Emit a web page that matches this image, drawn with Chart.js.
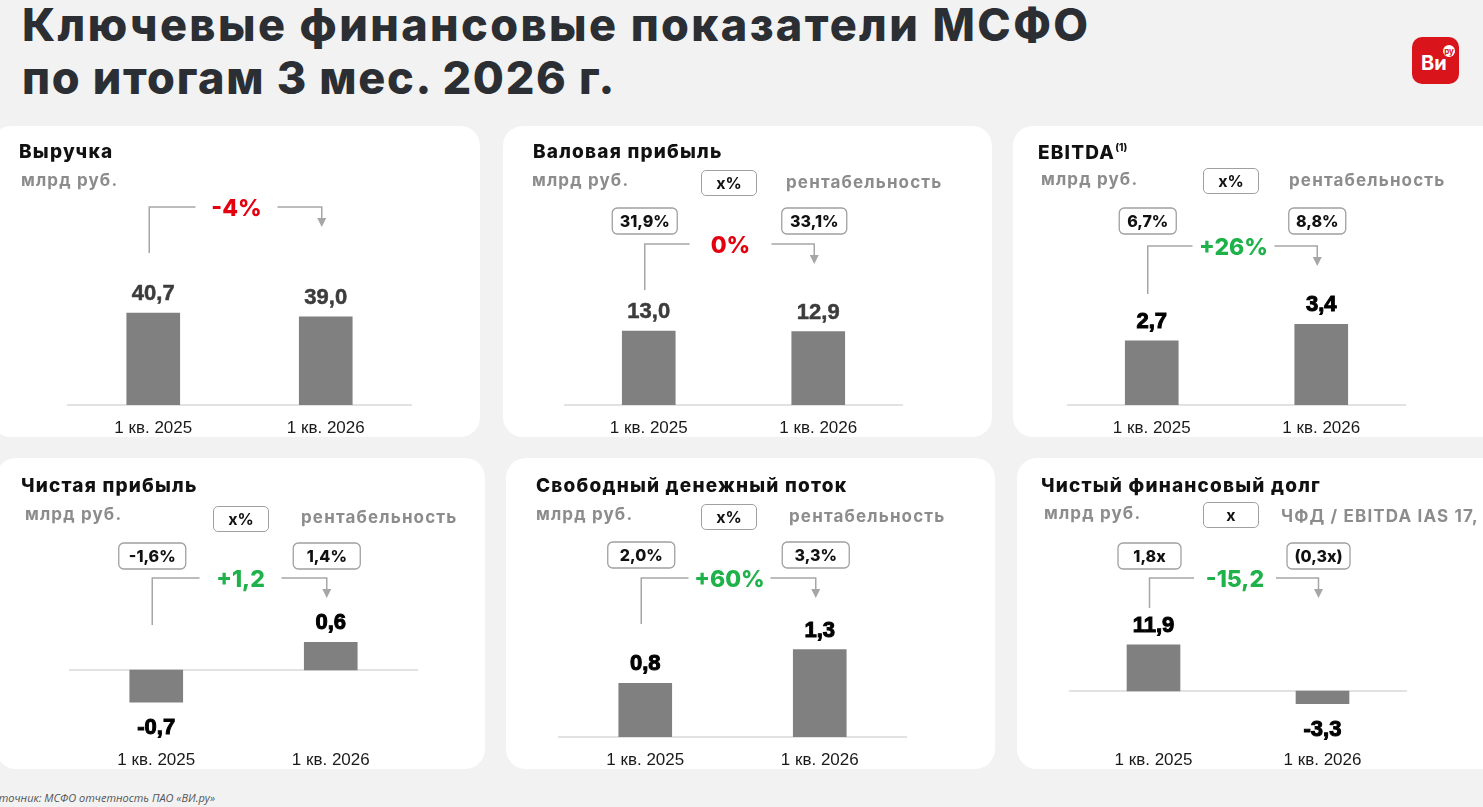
<!DOCTYPE html>
<html lang="ru">
<head>
<meta charset="utf-8">
<title>Ключевые финансовые показатели МСФО</title>
<script src="https://cdn.jsdelivr.net/npm/chart.js@4.4.1/dist/chart.umd.min.js"></script>
<style>
  html, body { margin: 0; padding: 0; }
  body {
    width: 1483px; height: 807px; position: relative; overflow: hidden;
    background: #f2f2f2; font-family: Inter, "Noto Sans", sans-serif;
  }
  .title {
    position: absolute; left: 22px; top: -2px; white-space: nowrap;
    font-size: 45px; line-height: 53px; font-weight: 800; color: #2b2e33;
  }
  .title .l1 { letter-spacing: 2.4px; }
  .title .l2 { letter-spacing: 1.65px; }
  .logo {
    position: absolute; left: 1412px; top: 37px; width: 47px; height: 47px;
    border-radius: 10px; background: #d9141b;
  }
  .logo .vi {
    position: absolute; left: 9px; top: 16px; color: #fff;
    font: 700 20px/1 Inter, sans-serif;
  }
  .logo .ru {
    position: absolute; left: 31px; top: 8px; width: 12px; height: 12px; border-radius: 50%;
    background: #fff; color: #d9141b; font: 700 8px/12px Inter, sans-serif; text-align: center;
  }
  .panel {
    position: absolute; width: 489px; height: 311px;
    background: #fff; border-radius: 20px; overflow: hidden;
  }
  .panel canvas { position: absolute; left: 0; top: 0; }
  .ptitle {
    position: absolute; white-space: nowrap; line-height: 1;
    font-size: 19px; font-weight: 800; color: #111; letter-spacing: 1.2px;
  }
  .ptitle sup { font-size: 10px; vertical-align: 8px; letter-spacing: 0; }
  .unit {
    position: absolute; white-space: nowrap; line-height: 1;
    font-size: 17px; font-weight: 700; color: #8c8c8c; letter-spacing: 1.15px;
  }
  .lbox {
    position: absolute; width: 54px; height: 24px; border: 1.3px solid #a0a0a0; border-radius: 5px;
    text-align: center; line-height: 24px; font-size: 16px; font-weight: 700; color: #111;
  }
  .source {
    position: absolute; left: -14px; top: 790px; white-space: nowrap;
    font: italic 11px "Open Sans", sans-serif; color: #555;
  }
</style>
</head>
<body>
<div class="title"><span class="l1">Ключевые финансовые показатели МСФО</span><br><span class="l2">по итогам 3 мес. 2026 г.</span></div>
<div class="logo"><span class="vi">Ви</span><span class="ru">ру</span></div>
<div id="panels"></div>
<div class="source">Источник: МСФО отчетность ПАО «ВИ.ру»</div>

<script>
// data
const categories = ["1 кв. 2025", "1 кв. 2026"];
const titles = ["Выручка", "Валовая прибыль", "EBITDA<sup>(1)</sup>", "Чистая прибыль", "Свободный денежный поток", "Чистый финансовый долг"];
const revenue = [40.7, 39.0];
const grossProfit = [13.0, 12.9];
const ebitda = [2.7, 3.4];
const netProfit = [-0.7, 0.6];
const freeCashFlow = [0.8, 1.3];
const netDebt = [11.9, -3.3];
const seriesValues = [revenue, grossProfit, ebitda, netProfit, freeCashFlow, netDebt];
const margins = [null, ["31,9%", "33,1%"], ["6,7%", "8,8%"], ["-1,6%", "1,4%"], ["2,0%", "3,3%"], ["1,8x", "(0,3x)"]];
const changes = ["-4%", "0%", "+26%", "+1,2", "+60%", "-15,2"];
const legendKeys = [null, "x%", "x%", "x%", "x%", "x"];
const legendNames = [null, "рентабельность", "рентабельность", "рентабельность", "рентабельность", "ЧФД / EBITDA IAS 17, x"];
const yMin = [0, 0, 0, -1.457, 0, -11.89];
const yMax = [105.8, 42.0, 10.06, 3.74, 3.557, 49.87];

const RED = "#e3000f";
const GREEN = "#1fb24a";
const changeColors = [RED, RED, GREEN, GREEN, GREEN, GREEN];

// panel placement (px, relative to each panel)
const layout = [
  { left: -9,   top: 126, padL: 76, padR: 68, title: [28, 16], unit: [30, 46], bracketY: 81,  drop: 46, dark: true },
  { left: 503,  top: 126, padL: 61, padR: 89, title: [30, 16], unit: [29, 46], lbox: [198, 44], lname: [283, 48], boxY: 82, boxW: 65, bracketY: 118, drop: 46, dark: true },
  { left: 1013, top: 126, padL: 54, padR: 96, title: [25, 16], unit: [28, 45], lbox: [190, 42], lname: [276, 46], boxY: 82, boxW: 57, bracketY: 120, drop: 48 },
  { left: -4,   top: 458, padL: 73, padR: 67, title: [25, 18], unit: [29, 48], lbox: [217, 48], lname: [305, 51], boxY: 85, boxW: 67, bracketY: 120, drop: 47 },
  { left: 506,  top: 458, padL: 52, padR: 88, title: [30, 18], unit: [30, 48], lbox: [195, 46], lname: [283, 50], boxY: 84, boxW: 67, bracketY: 120, drop: 46 },
  { left: 1017, top: 458, padL: 52, padR: 99, title: [24, 18], unit: [27, 47], lbox: [186, 44], lname: [264, 50], boxY: 85, boxW: 63, bracketY: 120, drop: 30 }
];

const PANEL_W = 489;
const PANEL_H = 311;
const AXIS_H = 32;

const annotate = {
  id: "annotate",
  beforeDatasetsDraw(chart) {
    const { ctx, chartArea, scales } = chart;
    const y0 = scales.y.getPixelForValue(0);
    ctx.save();
    ctx.strokeStyle = "#d9d9d9";
    ctx.lineWidth = 1.3;
    ctx.beginPath();
    ctx.moveTo(chartArea.left, y0);
    ctx.lineTo(chartArea.right, y0);
    ctx.stroke();
    ctx.restore();
  },
  afterDatasetsDraw(chart, args, opts) {
    const i = opts.index;
    const L = layout[i];
    const ctx = chart.ctx;
    const bars = chart.getDatasetMeta(0).data;
    const values = chart.data.datasets[0].data;

    ctx.save();
    // value labels
    ctx.textAlign = "center";
    ctx.textBaseline = "alphabetic";
    ctx.font = "bold 22px 'Liberation Sans', Arial, sans-serif";
    bars.forEach((bar, k) => {
      const v = values[k];
      const txt = v.toFixed(1).replace(".", ",");
      const y = v >= 0 ? bar.y - 13 : bar.y + 32;
      ctx.fillStyle = L.dark ? "#3c3c3c" : "#000";
      ctx.fillText(txt, bar.x, y);
      ctx.lineWidth = L.dark ? 0.5 : 1;
      ctx.strokeStyle = ctx.fillStyle;
      ctx.strokeText(txt, bar.x, y);
    });

    // bracket with arrow
    const x1 = bars[0].x - 4;
    const x2 = bars[1].x - 4;
    const by = L.bracketY;
    const cx = (x1 + x2) / 2 + 1;
    ctx.strokeStyle = "#a6a6a6";
    ctx.lineWidth = 1.5;
    ctx.beginPath();
    ctx.moveTo(x1, by + L.drop);
    ctx.lineTo(x1, by);
    ctx.lineTo(cx - 41, by);
    ctx.moveTo(cx + 41, by);
    ctx.lineTo(x2, by);
    ctx.lineTo(x2, by + 12);
    ctx.stroke();
    ctx.fillStyle = "#a6a6a6";
    ctx.beginPath();
    ctx.moveTo(x2 - 4.5, by + 11);
    ctx.lineTo(x2 + 4.5, by + 11);
    ctx.lineTo(x2, by + 20);
    ctx.closePath();
    ctx.fill();

    // change between periods
    ctx.font = "800 23px Inter, sans-serif";
    ctx.fillStyle = changeColors[i];
    ctx.textBaseline = "middle";
    ctx.fillText(changes[i], cx, by + 2);

    // margin boxes
    if (margins[i]) {
      [x1, x2].forEach((x, k) => {
        const w = L.boxW, h = 26, top = L.boxY;
        ctx.beginPath();
        ctx.roundRect(x - w / 2, top, w, h, 5);
        ctx.fillStyle = "#fff";
        ctx.fill();
        ctx.strokeStyle = "#a0a0a0";
        ctx.lineWidth = 1.3;
        ctx.stroke();
        ctx.font = "800 16px Inter, sans-serif";
        ctx.fillStyle = "#111";
        ctx.fillText(margins[i][k], x, top + h / 2 + 1);
      });
    }
    ctx.restore();
  }
};

const holder = document.getElementById("panels");

seriesValues.forEach((values, i) => {
  const L = layout[i];
  const panel = document.createElement("div");
  panel.className = "panel";
  panel.style.left = L.left + "px";
  panel.style.top = L.top + "px";

  const canvas = document.createElement("canvas");
  canvas.width = PANEL_W;
  canvas.height = PANEL_H;
  panel.appendChild(canvas);

  let html = `<div class="ptitle" style="left:${L.title[0]}px;top:${L.title[1]}px">${titles[i]}</div>` +
    `<div class="unit" style="left:${L.unit[0]}px;top:${L.unit[1]}px">млрд руб.</div>`;
  if (legendKeys[i]) {
    html += `<div class="lbox" style="left:${L.lbox[0]}px;top:${L.lbox[1]}px">${legendKeys[i]}</div>` +
      `<div class="unit" style="left:${L.lname[0]}px;top:${L.lname[1]}px">${legendNames[i]}</div>`;
  }
  panel.insertAdjacentHTML("beforeend", html);
  holder.appendChild(panel);

  new Chart(canvas, {
    type: "bar",
    data: {
      labels: categories,
      datasets: [{ data: values, backgroundColor: "#808080", barThickness: 53 }]
    },
    options: {
      responsive: false,
      animation: false,
      layout: { padding: { left: L.padL, right: L.padR, top: 40, bottom: 0 } },
      plugins: {
        legend: { display: false },
        tooltip: { enabled: false },
        annotate: { index: i }
      },
      scales: {
        x: {
          grid: { display: false, drawTicks: false },
          border: { display: false },
          ticks: { color: "#1a1a1a", padding: 13, font: { family: "'Liberation Sans', Arial, sans-serif", size: 17 } },
          afterFit: (scale) => { scale.height = AXIS_H; }
        },
        y: { display: false, min: yMin[i], max: yMax[i] }
      }
    },
    plugins: [annotate]
  });
});
</script>
</body>
</html>
